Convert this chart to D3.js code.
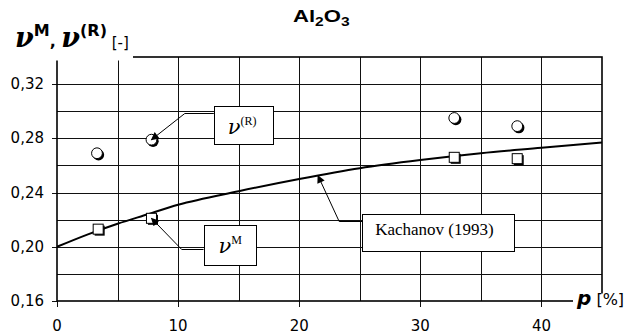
<!DOCTYPE html>
<html>
<head>
<meta charset="utf-8">
<script src="https://cdn.jsdelivr.net/npm/d3@7"></script>
<style>
  body { margin: 0; background: #fff; }
  svg { display: block; }
</style>
</head>
<body>
<div id="chart"></div>
<script>
const pR = [3.3, 7.8, 32.8, 38.0]
const nuR = [0.269, 0.279, 0.295, 0.289]
const pM = [3.4, 7.8, 32.8, 38.0]
const nuM = [0.213, 0.221, 0.266, 0.265]

// Kachanov (1993) curve
const pK = [0, 2.5, 5, 7.5, 10, 15, 20, 25, 30, 35, 40, 45]
const nuK = [0.200, 0.209, 0.217, 0.224, 0.231, 0.241, 0.250, 0.258, 0.264, 0.269, 0.273, 0.277]

const xTicks = [0, 10, 20, 30, 40]
const yTicks = [0.16, 0.20, 0.24, 0.28, 0.32]

// callouts: target point, elbow and box anchor in data units
const notes = [
  { key: 'R', tip: [7.8, 0.279], elbow: [10.55, 0.3068], box: [12.95, 0.2985], w: 59, h: 38 },
  { key: 'M', tip: [7.8, 0.221], elbow: [10.3, 0.196], box: [12.1, 0.1985], w: 52, h: 40 },
  { key: 'K', tip: [21.55, 0.2525], elbow: [23.3, 0.228], box: [25.2, 0.2193], w: 152, h: 37 }
]

const width = 633
const height = 335

const x = d3.scaleLinear().domain([0, 45]).range([57, 602])
const y = d3.scaleLinear().domain([0.16, 0.34]).range([301, 57])

const fmt = d3.formatLocale({ decimal: ',', thousands: '.', grouping: [3], currency: ['', ''] }).format('.2f')

const svg = d3.select('#chart').append('svg')
  .attr('width', width)
  .attr('height', height)

const defs = svg.append('defs')
defs.append('marker')
  .attr('id', 'arr')
  .attr('viewBox', '0 0 10 10')
  .attr('refX', 9).attr('refY', 5)
  .attr('markerWidth', 9).attr('markerHeight', 8)
  .attr('markerUnits', 'userSpaceOnUse')
  .attr('orient', 'auto')
  .append('path').attr('d', 'M0,0L10,5L0,10Z').attr('fill', '#000')

const crisp = v => Math.round(v) + 0.5

// grid
const grid = svg.append('g').attr('stroke', '#111').attr('stroke-width', 1)
grid.selectAll('.gx').data(d3.range(5, 45, 5)).join('line')
  .attr('x1', d => crisp(x(d))).attr('x2', d => crisp(x(d)))
  .attr('y1', y(0.34)).attr('y2', y(0.16))
grid.selectAll('.gy').data(d3.range(0.18, 0.335, 0.02)).join('line')
  .attr('x1', x(0)).attr('x2', x(45))
  .attr('y1', d => crisp(y(d))).attr('y2', d => crisp(y(d)))

// ticks
grid.selectAll('.tx').data(xTicks).join('line')
  .attr('x1', d => crisp(x(d))).attr('x2', d => crisp(x(d)))
  .attr('y1', y(0.16)).attr('y2', y(0.16) + 6)
grid.selectAll('.ty').data(yTicks).join('line')
  .attr('x1', x(0) - 5).attr('x2', x(0))
  .attr('y1', d => crisp(y(d))).attr('y2', d => crisp(y(d)))

// frame
svg.append('rect')
  .attr('x', x(0)).attr('y', y(0.34))
  .attr('width', x(45) - x(0)).attr('height', y(0.16) - y(0.34))
  .attr('fill', 'none').attr('stroke', '#000').attr('stroke-width', 1.6)

// label backgrounds hide the frame corners
svg.append('rect').attr('x', 0).attr('y', 0).attr('width', 133).attr('height', 60.5).attr('fill', '#fff')
svg.append('rect').attr('x', 573).attr('y', 293.5).attr('width', 60).attr('height', 42).attr('fill', '#fff')

// tick labels
svg.append('g').selectAll('text').data(xTicks).join('text')
  .attr('x', d => x(d)).attr('y', 331)
  .attr('text-anchor', 'middle')
  .style('font', '15px "DejaVu Sans"')
  .text(d => d)
svg.append('g').selectAll('text').data(yTicks).join('text')
  .attr('x', 44).attr('y', d => y(d) + 5)
  .attr('text-anchor', 'end')
  .style('font', '15px "DejaVu Sans"')
  .text(d => fmt(d))

// Kachanov curve
const line = d3.line().x(d => x(d[0])).y(d => y(d[1])).curve(d3.curveMonotoneX)
svg.append('path')
  .datum(d3.zip(pK, nuK))
  .attr('d', line)
  .attr('fill', 'none').attr('stroke', '#000').attr('stroke-width', 2)

// markers with offset shadow
const mR = svg.append('g').selectAll('g').data(d3.zip(pR, nuR)).join('g')
  .attr('transform', d => `translate(${x(d[0])},${y(d[1])})`)
mR.append('circle').attr('cx', 1.6).attr('cy', 1.6).attr('r', 5.6).attr('fill', '#000')
mR.append('circle').attr('r', 5.4).attr('fill', '#fff').attr('stroke', '#000').attr('stroke-width', 1)

const mM = svg.append('g').selectAll('g').data(d3.zip(pM, nuM)).join('g')
  .attr('transform', d => `translate(${x(d[0])},${y(d[1])})`)
mM.append('rect').attr('x', -3.5).attr('y', -3.5).attr('width', 10).attr('height', 10).attr('fill', '#000')
mM.append('rect').attr('x', -5).attr('y', -5).attr('width', 10).attr('height', 10)
  .attr('fill', '#fff').attr('stroke', '#000').attr('stroke-width', 1)

// callouts
const ng = svg.append('g').selectAll('g').data(notes).join('g')
ng.append('path')
  .attr('d', d => {
    const bx = x(d.box[0]), by = y(d.box[1])
    const ex = x(d.elbow[0])
    const tx = x(d.tip[0]), ty = y(d.tip[1])
    return `M${bx},${crisp(by)}H${ex}L${tx},${ty}`
  })
  .attr('fill', 'none').attr('stroke', '#000').attr('stroke-width', 1)
  .attr('marker-end', 'url(#arr)')
ng.append('rect')
  .attr('x', d => crisp(x(d.box[0])))
  .attr('y', d => crisp(y(d.box[1]) - (d.key === 'M' ? 24 : 7)))
  .attr('width', d => d.w).attr('height', d => d.h)
  .attr('fill', '#fff').attr('stroke', '#000').attr('stroke-width', 1)

ng.filter(d => d.key === 'K').append('text')
  .attr('x', d => x(d.box[0]) + 13).attr('y', d => y(d.box[1]) + 14)
  .style('font', '17px "Liberation Serif"')
  .text('Kachanov (1993)')

ng.filter(d => d.key === 'R').append('text')
  .attr('x', d => x(d.box[0]) + 14).attr('y', d => y(d.box[1]) + 21)
  .style('font', 'italic 21px "DejaVu Serif"')
  .call(t => {
    t.append('tspan').text('ν')
    t.append('tspan').attr('dy', -9).style('font', '12px "Liberation Serif"').text('(R)')
  })

ng.filter(d => d.key === 'M').append('text')
  .attr('x', d => x(d.box[0]) + 15).attr('y', d => y(d.box[1]) + 4)
  .style('font', 'italic 21px "DejaVu Serif"')
  .call(t => {
    t.append('tspan').text('ν')
    t.append('tspan').attr('dy', -9).style('font', '12px "Liberation Serif"').text('M')
  })

// title
svg.append('text')
  .attr('transform', 'translate(293,22) scale(1.3,1)')
  .style('font', 'bold 17px "Liberation Sans"')
  .call(t => {
    t.append('tspan').text('Al')
    t.append('tspan').attr('dy', 4).style('font-size', '12px').text('2')
    t.append('tspan').attr('dy', -4).text('O')
    t.append('tspan').attr('dy', 4).style('font-size', '12px').text('3')
  })

// y axis label
const yl = svg.append('text').attr('x', 15).attr('y', 47)
yl.append('tspan').style('font', 'bold italic 27px "DejaVu Serif"').text('ν')
yl.append('tspan').attr('dy', -11).style('font', 'bold 16px "DejaVu Sans"').text('M')
yl.append('tspan').attr('dy', 11).style('font', 'bold 16px "DejaVu Sans"').text(', ')
yl.append('tspan').style('font', 'bold italic 27px "DejaVu Serif"').text('ν')
yl.append('tspan').attr('dy', -11).style('font', 'bold 16px "DejaVu Sans"').text('(R)')
yl.append('tspan').attr('dy', 12).style('font', '15px "DejaVu Sans"').text(' [-]')

// x axis label
const xl = svg.append('text').attr('x', 577).attr('y', 305)
xl.append('tspan').style('font', 'bold italic 20px "DejaVu Sans"').text('p')
xl.append('tspan').style('font', '16px "DejaVu Sans"').text('  [%]')
</script>
</body>
</html>
